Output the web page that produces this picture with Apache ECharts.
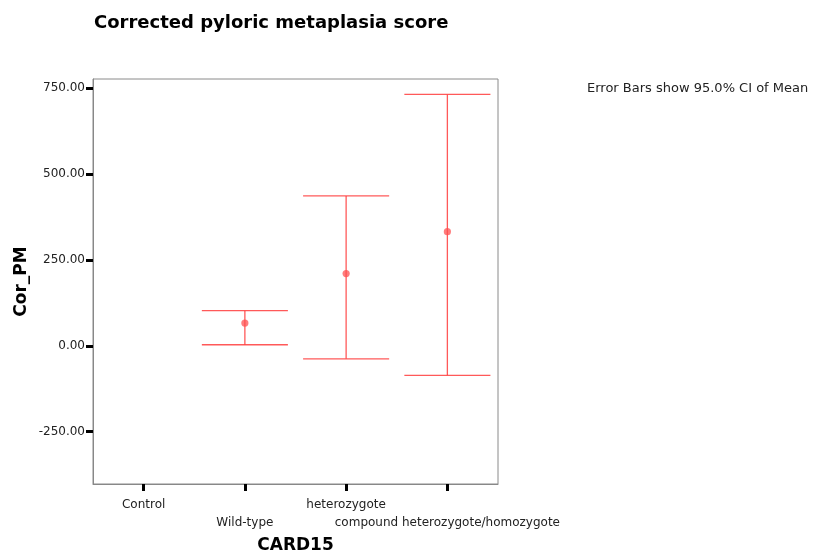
<!DOCTYPE html>
<html>
<head>
<meta charset="utf-8">
<script src="https://cdn.jsdelivr.net/npm/echarts@6/dist/echarts.min.js"></script>
<style>html,body{margin:0;padding:0;background:#fff}#c{width:836px;height:556px}</style>
</head>
<body>
<div id="c"></div>
<script>
const categories = ['Control', 'Wild-type', 'heterozygote', 'compound heterozygote/homozygote'];
const means = [null, 66, 210, 332];
const lowerCI = [null, 3, -38, -86];
const upperCI = [null, 102, 436, 731];
const yTicks = [-250, 0, 250, 500, 750];

const data = [];
categories.forEach((c, i) => {
  if (means[i] !== null) data.push([i, lowerCI[i], upperCI[i], means[i]]);
});

const FONT = '"DejaVu Sans", Arial, sans-serif';
const chart = echarts.init(document.getElementById('c'), null, {renderer: 'canvas'});
const barColor = 'rgba(255,60,60,0.85)';
chart.setOption({
  animation: false,
  title: {
    text: 'Corrected pyloric metaplasia score',
    left: 89, top: 9,
    textStyle: {fontFamily: FONT, fontSize: 18, fontWeight: 'bold', color: '#000'}
  },
  graphic: [{
    type: 'text', left: 587, top: 82,
    style: {text: 'Error Bars show 95.0% CI of Mean', font: '13px "DejaVu Sans", Arial', fill: '#222'}
  }],
  grid: {left: 93, right: 338, top: 79, bottom: 72, outerBoundsMode: 'none', containLabel: false,
    show: true, borderColor: '#8a8a8a', borderWidth: 1, backgroundColor: '#fff'},
  xAxis: {
    type: 'category', data: categories, boundaryGap: true,
    name: 'CARD15', nameLocation: 'middle', nameGap: 50,
    nameTextStyle: {fontFamily: FONT, fontSize: 17, fontWeight: 'bold', color: '#000'},
    axisLine: {show: true, onZero: false, lineStyle: {color: '#888', width: 1}},
    axisTick: {show: true, alignWithLabel: true, length: 7, lineStyle: {color: '#000', width: 3}},
    axisLabel: {
      interval: 0, margin: 12,
      fontFamily: FONT, fontSize: 12, color: '#222', lineHeight: 18,
      formatter: (v, i) => (i % 2 === 1 ? '\n' + v : v)
    },
    splitLine: {show: false}
  },
  yAxis: {
    type: 'value', min: -402, max: 776,
    name: 'Cor_PM', nameLocation: 'middle', nameGap: 63, nameRotate: 90,
    nameTextStyle: {fontFamily: FONT, fontSize: 17, fontWeight: 'bold', color: '#000'},
    axisLine: {show: true, lineStyle: {color: '#888', width: 1}},
    axisTick: {show: true, length: 7, customValues: yTicks, lineStyle: {color: '#000', width: 3}},
    axisLabel: {
      customValues: yTicks, margin: 8,
      fontFamily: FONT, fontSize: 12, color: '#222',
      formatter: v => v.toFixed(2)
    },
    splitLine: {show: false}
  },
  series: [{
    type: 'custom',
    data: data,
    encode: {x: 0, y: [1, 2, 3]},
    renderItem: function (params, api) {
      const ci = api.value(0);
      const lo = api.coord([ci, api.value(1)]);
      const hi = api.coord([ci, api.value(2)]);
      const mn = api.coord([ci, api.value(3)]);
      const half = api.size([1, 0])[0] * 0.425;
      const st = {stroke: barColor, lineWidth: 1.3};
      return {
        type: 'group',
        children: [
          {type: 'line', shape: {x1: lo[0], y1: lo[1], x2: hi[0], y2: hi[1]}, style: st},
          {type: 'line', shape: {x1: lo[0] - half, y1: lo[1], x2: lo[0] + half, y2: lo[1]}, style: st},
          {type: 'line', shape: {x1: hi[0] - half, y1: hi[1], x2: hi[0] + half, y2: hi[1]}, style: st},
          {type: 'circle', shape: {cx: mn[0], cy: mn[1], r: 3.6}, style: {fill: 'rgba(255,80,80,0.75)'}}
        ]
      };
    }
  }]
});
</script>
</body>
</html>
